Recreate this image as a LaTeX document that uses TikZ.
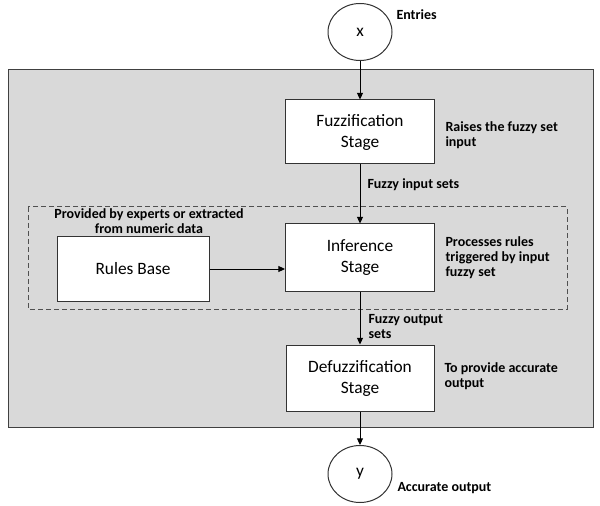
\documentclass[tikz,border=0pt]{standalone}
\usepackage{fontspec}
\setmainfont{Carlito}
\usetikzlibrary{arrows.meta,shapes.geometric}

\tikzset{every picture/.style={line width=0.75pt}}
\tikzset{
  stagebox/.style={draw={rgb,255:red,51;green,51;blue,51}, fill=white, align=center, inner sep=0pt, font=\fontsize{13}{15.75}\selectfont},
  ionode/.style={draw={rgb,255:red,51;green,51;blue,51}, ellipse, fill=white, minimum width=48pt, minimum height=42.75pt, inner sep=0pt, font=\fontsize{13}{15.75}\selectfont},
  note/.style={align=left, anchor=west, inner sep=0pt, font=\bfseries\fontsize{10.5}{11.25}\selectfont},
  flow/.style={-{Triangle[length=5pt,width=4.5pt]}},
}

\begin{document}
\begin{tikzpicture}[x=0.75pt,y=0.75pt,yscale=-1,xscale=1]
\useasboundingbox (0,0) rectangle (600,506);

%Shape: Rectangle [gray panel]
\draw [color={rgb, 255:red, 64; green, 64; blue, 64 }, fill={rgb, 255:red, 217; green, 217; blue, 217 }] (8,70) rectangle (593,427);
%Shape: Rectangle [dashed group]
\draw [color={rgb, 255:red, 80; green, 80; blue, 80 }, dash pattern=on 3.5pt off 2.5pt] (28,207) rectangle (567,309);

%Shape: Ellipse [entries]
\node [ionode] (x) at (360,32) {x};
%Shape: Rectangle [stages]
\node [stagebox, minimum width=111.75pt, minimum height=48pt] (fuzz) at (360,132) {Fuzzification\\Stage};
\node [stagebox, minimum width=111.75pt, minimum height=50.25pt] (infer) at (360,257.5) {Inference\\Stage};
\node [stagebox, minimum width=114pt, minimum height=48pt] (rules) at (133,269) {Rules Base};
\node [stagebox, minimum width=111pt, minimum height=49.5pt] (defuzz) at (360,378) {Defuzzification\\Stage};
%Shape: Ellipse [output]
\node [ionode] (y) at (360,474) {y};

%Straight Lines
\draw [flow] (x) -- (fuzz);
\draw [flow] (fuzz) -- (infer);
\draw [flow] (rules.east) -- (rules.east -| infer.west);
\draw [flow] (infer) -- (defuzz);
\draw [flow] (defuzz) -- (y);

% Text Node
\node [note] (entries) at (396,15) {Entries};
% Text Node
\node [note] (raises) at (445,135.5) {Raises the fuzzy set\\input};
% Text Node
\node [note] (fin) at (367,185) {Fuzzy input sets};
% Text Node
\node [note, align=center, anchor=center] (provided) at (149,221) {Provided by experts or extracted\\from numeric data};
% Text Node
\node [note] (processes) at (445,258) {Processes rules\\triggered by input\\fuzzy set};
% Text Node
\node [note] (fout) at (368,327) {Fuzzy output\\sets};
% Text Node
\node [note] (provide) at (444,376) {To provide accurate\\output};
% Text Node
\node [note] (accurate) at (397,488) {Accurate output};

\end{tikzpicture}
\end{document}
